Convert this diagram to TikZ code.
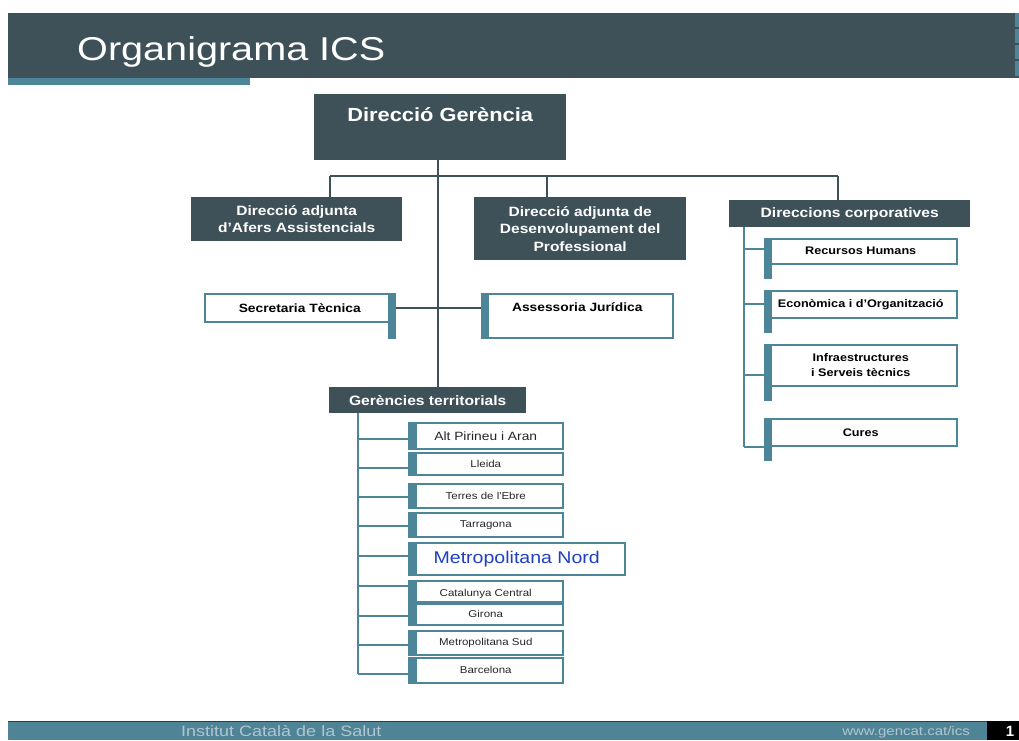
\documentclass[tikz,border=0pt]{standalone}
\usepackage{fontspec}
\setmainfont{Liberation Sans}
\newfontfamily\wf[FakeStretch=1.15]{Liberation Sans}
\newfontfamily\tf[FakeStretch=1.2]{Liberation Sans}
\usetikzlibrary{calc}
\definecolor{slate}{HTML}{3F5158}
\definecolor{tealc}{HTML}{4E8699}
\definecolor{footc}{HTML}{4F8497}
\definecolor{footline}{HTML}{23425A}
\definecolor{nordblue}{HTML}{1F3FC4}
\definecolor{foottext}{HTML}{B0C6CF}
\newcommand\fsz[2]{\fontsize{#1}{#2}\selectfont}
\tikzset{
  darkbox/.style={fill=slate, draw=none, inner sep=0pt, anchor=north west, text=white, font=\wf\bfseries, align=center},
  wbox/.style={fill=white, draw=tealc, line width=1.5pt, inner sep=0pt, anchor=north west, align=center, font=\wf\bfseries\fsz{11}{15}, text=black},
  gbox/.style={fill=white, draw=tealc, line width=1.5pt, inner sep=0pt, anchor=north west, align=center, font=\wf\fsz{10}{12}, text=black!85, minimum width=154pt},
  dline/.style={draw=slate, line width=2pt},
  tline/.style={draw=tealc, line width=2pt},
  bar/.style={fill=tealc, draw=none}
}
\begin{document}
\begin{tikzpicture}[x=1pt,y=-1pt]
\useasboundingbox (0,0) rectangle (1019,740);
% title bar
\fill[slate] (8,13) rectangle (1019,78);
\fill[tealc] (1015,13) rectangle (1019,27);
\fill[tealc] (1015,29) rectangle (1019,43);
\fill[tealc] (1015,45) rectangle (1019,59);
\fill[tealc] (1015,61) rectangle (1019,76);
\fill[tealc] (8,78) rectangle (250,85);
\node[anchor=base west, text=white, inner sep=0pt, font=\tf\fsz{33}{38}] (title) at (77,60) {Organigrama ICS};
% footer
\fill[footc] (8,721) rectangle (987,740);
\draw[footline, line width=1.5pt] (8,721.5) -- (987,721.5);
\fill[black] (987,721) rectangle (1019,740);
\node[anchor=base west, inner sep=0pt, text=foottext, font=\tf\fsz{15}{17}] (ics) at (181,736) {Institut Català de la Salut};
\node[anchor=base east, inner sep=0pt, text=foottext, font=\tf\fsz{12.5}{14}] (web) at (970,735) {www.gencat.cat/ics};
\node[anchor=base, inner sep=0pt, text=white, font=\bfseries\fsz{15}{17}] (pg) at (1010,736) {1};

% coordinates for junctions
\coordinate (mx) at (438,0);
\coordinate (hl) at (330,176);
\coordinate (hm) at (547,176);
\coordinate (hr) at (838,176);
\coordinate (cs) at (744,0);
\coordinate (gs) at (358,0);

% boxes (positions)
\node[darkbox, minimum width=252pt, font=\wf\bfseries\fsz{19}{22}, inner ysep=5pt, text height=22pt, text depth=34pt] (dg) at (314,94) {Direcció Gerència};
\node[darkbox, minimum width=211pt, minimum height=44pt, font=\wf\bfseries\fsz{13.5}{17}] (afers) at (191,197) {Direcció adjunta\\d’Afers Assistencials};
\node[darkbox, minimum width=212pt, minimum height=63pt, font=\wf\bfseries\fsz{13.5}{17.5}] (dad) at (474,197) {Direcció adjunta de\\Desenvolupament del\\Professional};
\node[darkbox, minimum width=241pt, minimum height=27pt, font=\wf\bfseries\fsz{13.6}{16}] (dc) at (729,200) {Direccions corporatives};
\node[darkbox, minimum width=197pt, minimum height=26pt, font=\wf\bfseries\fsz{13.6}{16}] (gt) at (329,387) {Gerències territorials};

% connectors (top)
\draw[dline] (dg.south -| mx) -- (gt.north -| mx);
\draw[dline] (hl) -- (hr);
\draw[dline] (hl) -- (hl |- afers.north);
\draw[dline] (hm) -- (hm |- dad.north);
\draw[dline] (hr) -- (hr |- dc.north);

% secretaria / assessoria
\node[wbox, minimum width=190pt, minimum height=28pt, font=\wf\bfseries\fsz{12}{14}] (st) at (204,293) {Secretaria Tècnica};
\node[wbox, minimum width=191pt, inner ysep=5pt, text height=13pt, text depth=21pt, font=\wf\bfseries\fsz{12}{14}] (aj) at (481,293) {Assessoria Jurídica};
\draw[dline] (st.east) -- (st.east -| aj.west);
\fill[bar] ($(st.north east)+(-8,0)$) rectangle ($(st.south east)+(0,16)$);
\fill[bar] (aj.north west) rectangle ($(aj.south west)+(8,0)$);

% direccions corporatives
\node[wbox, minimum width=192pt, minimum height=25pt] (rh) at (764,238) {Recursos Humans};
\node[wbox, minimum width=192pt, minimum height=27pt] (ec) at (764,290) {Econòmica i d’Organització};
\node[wbox, minimum width=192pt, minimum height=41pt] (inf) at (764,344) {Infraestructures\\i Serveis tècnics};
\node[wbox, minimum width=192pt, minimum height=27pt] (cu) at (764,418) {Cures};
\coordinate (c1) at (744,249);
\coordinate (c2) at (744,304);
\coordinate (c3) at (744,375);
\coordinate (c4) at (744,447);
\draw[tline] (dc.south -| cs) -- (c4);
\draw[tline] (c1) -- (c1 -| rh.west);
\draw[tline] (c2) -- (c2 -| ec.west);
\draw[tline] (c3) -- (c3 -| inf.west);
\draw[tline] (c4) -- (c4 -| cu.west);
\foreach \b in {rh,ec,inf,cu}{
  \fill[bar] (\b.north west) rectangle ($(\b.south west)+(8,14)$);
}

% gerencies territorials
\node[gbox, minimum height=26pt, font=\wf\fsz{12}{14}] (ap) at (408,422) {Alt Pirineu i Aran};
\node[gbox, minimum height=22pt] (ll) at (408,452) {Lleida};
\node[gbox, minimum height=24pt] (te) at (408,483) {Terres de l'Ebre};
\node[gbox, minimum height=24pt] (ta) at (408,512) {Tarragona};
\node[gbox, minimum width=216pt, minimum height=32pt, font=\wf\fsz{17}{19}, text=nordblue] (mn) at (408,542) {Metropolitana Nord};
\node[gbox, minimum height=21pt, text depth=0pt] (cc) at (408,580) {\raisebox{-3pt}{Catalunya Central}};
\node[gbox, minimum height=21pt] (gi) at (408,603) {Girona};
\node[gbox, minimum height=24pt] (ms) at (408,630) {Metropolitana Sud};
\node[gbox, minimum height=25pt] (ba) at (408,657) {Barcelona};
\coordinate (g1) at (358,439);
\coordinate (g2) at (358,468);
\coordinate (g3) at (358,497);
\coordinate (g4) at (358,526);
\coordinate (g5) at (358,556);
\coordinate (g6) at (358,586);
\coordinate (g7) at (358,616);
\coordinate (g8) at (358,645);
\coordinate (g9) at (358,674);
\draw[tline] (gt.south -| gs) -- (g9);
\draw[tline] (g1) -- (g1 -| ap.west);
\draw[tline] (g2) -- (g2 -| ll.west);
\draw[tline] (g3) -- (g3 -| te.west);
\draw[tline] (g4) -- (g4 -| ta.west);
\draw[tline] (g5) -- (g5 -| mn.west);
\draw[tline] (g6) -- (g6 -| cc.west);
\draw[tline] (g7) -- (g7 -| gi.west);
\draw[tline] (g8) -- (g8 -| ms.west);
\draw[tline] (g9) -- (g9 -| ba.west);
\foreach \b in {ap,ll,te,ta,mn,cc,gi,ms,ba}{
  \fill[bar] (\b.north west) rectangle ($(\b.south west)+(9,0)$);
}
\end{tikzpicture}
\end{document}
